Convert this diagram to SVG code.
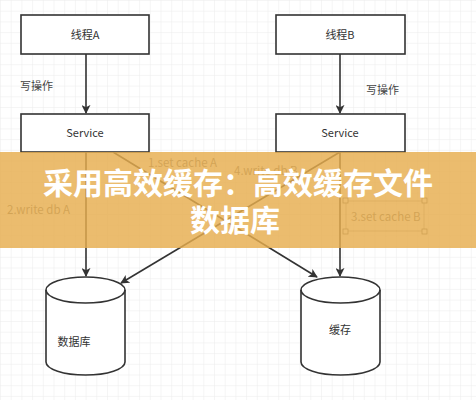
<svg xmlns="http://www.w3.org/2000/svg" width="476" height="400" viewBox="0 0 476 400">
<defs>
<pattern id="grid" width="10.7" height="10.7" patternUnits="userSpaceOnUse">
<path d="M10.7 0 L0 0 0 10.7" fill="none" stroke="#ebebeb" stroke-width="1"/>
</pattern>
<marker id="arr" viewBox="0 0 10 10" refX="9" refY="5" markerWidth="9" markerHeight="9" markerUnits="userSpaceOnUse" orient="auto">
<path d="M0 0 L10 5 L0 10 L2.5 5 Z" fill="#333"/>
</marker>
<style>
.box{fill:#fff;stroke:#333;stroke-width:1.6}
.t{font-family:"Noto Sans CJK SC","Liberation Sans",sans-serif;font-size:11px;fill:#333;text-anchor:middle}
.lbl{font-family:"Noto Sans CJK SC","Liberation Sans",sans-serif;font-size:11.5px;fill:#777}
.e{fill:none;stroke:#333;stroke-width:1.6}
.h{fill:#fff;stroke:#666;stroke-width:0.8}
.bt{font-family:"Noto Sans CJK SC",sans-serif;font-size:30px;font-weight:bold;fill:#fff;text-anchor:middle}
</style>
</defs>
<rect width="476" height="400" fill="#fff"/>
<rect width="476" height="400" fill="url(#grid)"/>
<g id="connectors">
<line class="e" x1="86" y1="54" x2="86" y2="113" marker-end="url(#arr)"/>
<line class="e" x1="340" y1="54" x2="340" y2="113" marker-end="url(#arr)"/>
<line class="e" x1="86" y1="152" x2="86" y2="276" marker-end="url(#arr)"/>
<line class="e" x1="340" y1="152" x2="340" y2="276" marker-end="url(#arr)"/>
<line class="e" x1="113" y1="152" x2="317" y2="277" marker-end="url(#arr)"/>
<line class="e" x1="340" y1="152" x2="121" y2="283" marker-end="url(#arr)"/>
<text class="lbl" x="20" y="90" style="fill:#444;font-size:11px">写操作</text>
<text class="lbl" x="366" y="94" style="fill:#444;font-size:11px">写操作</text>
<text class="lbl" x="148" y="167">1.set cache A</text>
<text class="lbl" x="7" y="214">2.write db A</text>
<text class="lbl" x="234" y="175">4.write db B</text>
<text class="lbl" x="351" y="221">3.set cache B</text>
<rect x="346" y="201" width="78" height="30" fill="none" stroke="#888" stroke-width="0.6"/>
<rect class="h" x="343" y="198" width="5" height="5"/>
<rect class="h" x="422" y="198" width="5" height="5"/>
<rect class="h" x="343" y="229" width="5" height="5"/>
<rect class="h" x="422" y="229" width="5" height="5"/>
</g>
<g id="threadA"><rect class="box" x="21" y="15" width="128" height="39"/><text class="t" x="85" y="39">线程A</text></g>
<g id="threadB"><rect class="box" x="276" y="15" width="129" height="39"/><text class="t" x="340" y="39">线程B</text></g>
<g id="serviceA"><rect class="box" x="21" y="114" width="128" height="38"/><text class="t" x="85" y="137">Service</text></g>
<g id="serviceB"><rect class="box" x="276" y="114" width="129" height="38"/><text class="t" x="340" y="137">Service</text></g>
<g id="db">
<path class="box" d="M46 290 A39.5 13 0 0 1 125 290 L125 362 A39.5 13 0 0 1 46 362 Z"/>
<path class="e" d="M46 290 A39.5 13 0 0 0 125 290"/>
<text class="t" x="74" y="346">数据库</text>
</g>
<g id="cache">
<path class="box" d="M301 290 A39.5 13 0 0 1 380 290 L380 362 A39.5 13 0 0 1 301 362 Z"/>
<path class="e" d="M301 290 A39.5 13 0 0 0 380 290"/>
<text class="t" x="340" y="334">缓存</text>
</g>
<g id="banner">
<rect x="0" y="152" width="476" height="96" fill="#e6ad4e" fill-opacity="0.82"/>
<text class="bt" x="238" y="194">采用高效缓存：高效缓存文件</text>
<text class="bt" x="235" y="231">数据库</text>
</g>
</svg>
